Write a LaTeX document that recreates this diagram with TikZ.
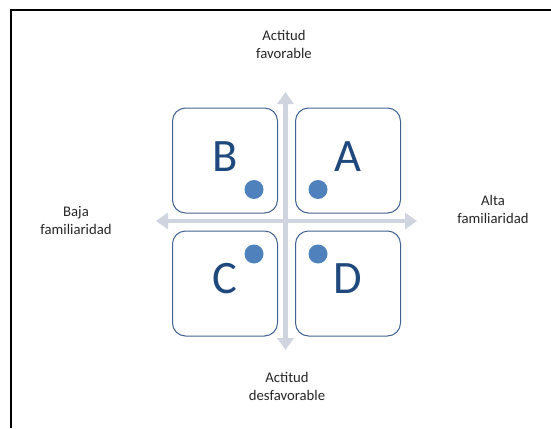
\documentclass[tikz,border=0pt]{standalone}
\usepackage{fontspec}
\setmainfont{Carlito}
\usetikzlibrary{arrows.meta}

\definecolor{axisgray}{RGB}{208,212,222}
\definecolor{boxline}{RGB}{66,98,145}
\definecolor{lettblue}{RGB}{31,73,125}
\definecolor{dotblue}{RGB}{79,129,189}

\begin{document}
\begin{tikzpicture}[
  x = 1pt, y = -1pt,
  every node/.style = {font=\fontsize{14.7}{18}\selectfont, text=black!85},
  quad/.style   = {draw=boxline, line width=1pt, rectangle, rounded corners=13pt,
                   minimum width=105pt, minimum height=105pt, inner sep=0pt},
  letter/.style = {font=\fontsize{46.5}{50}\selectfont, text=lettblue, inner sep=0pt},
  dot/.style    = {circle, fill=dotblue, minimum size=19pt, inner sep=0pt},
  lbl/.style    = {align=center, inner sep=0pt},
  axis/.style   = {draw=axisgray, line width=4.5pt,
                   {Triangle[width=16pt,length=12pt]}-{Triangle[width=16pt,length=12pt]}},
  frame/.style  = {line width=2pt},
]
\useasboundingbox (0,0) rectangle (551,428);

% outer frame, open on the right and at the bottom
\draw[frame] (11,428) -- (11,10) -- (551,10);

% --- Quadrants ----------------------------------------------------------
\node[quad] (qB) at (225,160.5) {};
\node[quad] (qA) at (348,160.5) {};
\node[quad] (qC) at (225,283.5) {};
\node[quad] (qD) at (348,283.5) {};

\node[letter] (lB) at (225,157) {B};
\node[letter] (lA) at (348,157) {A};
\node[letter] (lC) at (225,279) {C};
\node[letter] (lD) at (348,279) {D};

\node[dot] (dB) at (254,189.5) {};
\node[dot] (dA) at (318,189.5) {};
\node[dot] (dC) at (254,254) {};
\node[dot] (dD) at (318,254) {};

% --- Axes ---------------------------------------------------------------
\coordinate (vtop) at (285.5,92);
\coordinate (vbot) at (285.5,350);
\coordinate (hlft) at (156,221);
\coordinate (hrgt) at (417,221);
\draw[axis] (vbot) -- (vtop);
\draw[axis] (hlft) -- (hrgt);

% --- Axis labels --------------------------------------------------------
\node[lbl] (fav)  at (284,44)  {Actitud\\ favorable};
\node[lbl] (desf) at (287,386) {Actitud\\ desfavorable};
\node[lbl] (baja) at (76,220)  {Baja\\ familiaridad};
\node[lbl] (alta) at (493,209) {Alta\\ familiaridad};

\end{tikzpicture}
\end{document}
